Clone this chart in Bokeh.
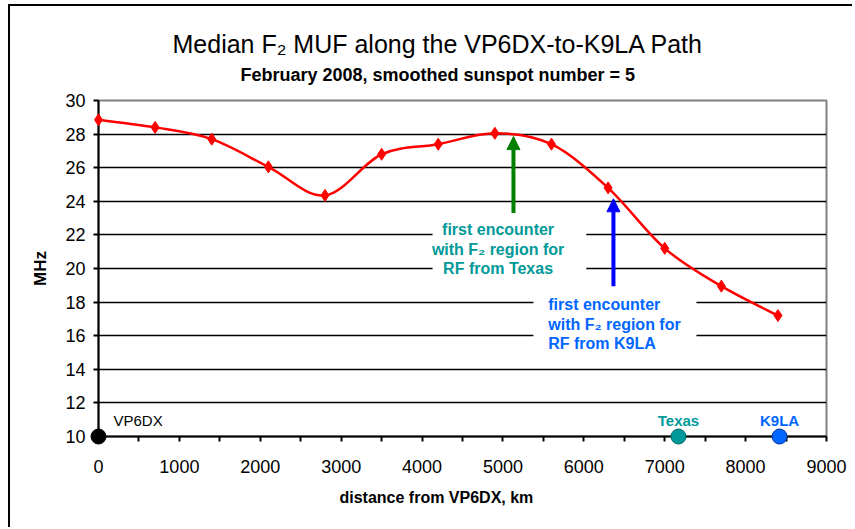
from bokeh.plotting import figure
from bokeh.models import (FixedTicker, Label, Arrow, NormalHead, Range1d, Title)
from bokeh.embed import file_html
from bokeh.resources import INLINE

# ---- data ----
distance_km = [0, 700, 1400, 2100, 2800, 3500, 4200, 4900, 5600, 6300, 7000, 7700, 8400]
muf_mhz = [28.85, 28.4, 27.7, 26.05, 24.35, 26.8, 27.4, 28.05, 27.4, 24.8, 21.2, 18.95, 17.2]

station_names = ["VP6DX", "Texas", "K9LA"]
station_km = [0, 7170, 8420]
station_colors = ["#000000", "#009999", "#0066ff"]
station_edge = ["#000000", "#006666", "#003399"]

x_ticks = list(range(0, 9001, 1000))
x_minor = list(range(500, 9000, 1000))
y_ticks = list(range(10, 31, 2))

title_text = "Median F\u2082 MUF along the VP6DX-to-K9LA Path"
subtitle_text = "February 2008, smoothed sunspot number = 5"
xlabel_text = "distance from VP6DX, km"
ylabel_text = "MHz"
texas_note = "first encounter\nwith F\u2082 region for\nRF from Texas"
k9la_note = "first encounter\nwith F\u2082 region for\nRF from K9LA"
texas_arrow_km = 5130
k9la_arrow_km = 6366

FONT = "Liberation Sans"

p = figure(width=844, height=523, output_backend="svg", toolbar_location=None,
           x_range=Range1d(0, 9000), y_range=Range1d(10, 30),
           min_border_left=88, min_border_right=28, min_border_top=94, min_border_bottom=93)
p.styles = {"margin-left": "8px", "margin-top": "4px",
            "border-left": "2px solid black", "border-top": "2px solid black"}
p.background_fill_color = "white"
p.border_fill_color = "white"
p.outline_line_color = "#808080"
p.outline_line_width = 2

# axes
p.xaxis.ticker = FixedTicker(ticks=x_ticks, minor_ticks=x_minor)
p.yaxis.ticker = FixedTicker(ticks=y_ticks)
for ax in (p.xaxis[0], p.yaxis[0]):
    ax.axis_line_color = "black"
    ax.axis_line_width = 2
    ax.major_tick_line_color = "black"
    ax.major_tick_line_width = 2
    ax.minor_tick_line_color = "black"
    ax.minor_tick_line_width = 2
    ax.major_tick_in = 0
    ax.major_tick_out = 5
    ax.minor_tick_in = 0
    ax.minor_tick_out = 5
    ax.major_label_text_font = FONT
    ax.major_label_text_font_size = "18px"
    ax.major_label_text_color = "black"
p.yaxis.minor_tick_line_color = None
p.xaxis.major_label_standoff = 18
p.yaxis.major_label_standoff = 8
p.yaxis.axis_label = ylabel_text
p.yaxis.axis_label_text_font = FONT
p.yaxis.axis_label_text_font_style = "bold"
p.yaxis.axis_label_text_font_size = "17px"
p.yaxis.axis_label_text_color = "black"
p.yaxis.axis_label_standoff = 12

p.xgrid.grid_line_color = None
p.ygrid.ticker = FixedTicker(ticks=y_ticks[1:-1])
p.ygrid.grid_line_color = "black"
p.ygrid.grid_line_width = 1.3

# titles (nearest to frame added first) and x label
p.add_layout(Title(text=" ", text_font=FONT, text_font_size="1px", standoff=13), "above")
p.add_layout(Title(text=subtitle_text, text_font=FONT, text_font_size="18px", text_color="black",
                   text_font_style="bold", align="left", offset=142, standoff=0), "above")
p.add_layout(Title(text=title_text, text_font=FONT, text_font_size="25px", text_color="black",
                   text_font_style="normal", align="left", offset=74, standoff=10), "above")
p.add_layout(Title(text=xlabel_text, text_font=FONT, text_font_size="16px", text_color="black",
                   text_font_style="bold", align="left", offset=241, standoff=22), "below")

# white boxes behind annotation text
p.quad(left=[4130], right=[6030], bottom=[19.1], top=[23.0], fill_color="white", line_color=None)
p.quad(left=[5377], right=[7392], bottom=[14.8], top=[18.6], fill_color="white", line_color=None)

# smoothed curve (Bezier segments through the data points)
n = len(distance_km)
x0, y0, x1, y1, cx0, cy0, cx1, cy1 = [], [], [], [], [], [], [], []
for i in range(n - 1):
    xm, ym = distance_km[max(i - 1, 0)], muf_mhz[max(i - 1, 0)]
    xa, ya = distance_km[i], muf_mhz[i]
    xb, yb = distance_km[i + 1], muf_mhz[i + 1]
    xp, yp = distance_km[min(i + 2, n - 1)], muf_mhz[min(i + 2, n - 1)]
    x0.append(xa); y0.append(ya); x1.append(xb); y1.append(yb)
    cx0.append(xa + (xb - xm) / 6); cy0.append(ya + (yb - ym) / 6)
    cx1.append(xb - (xp - xa) / 6); cy1.append(yb - (yp - ya) / 6)
p.bezier(x0=x0, y0=y0, x1=x1, y1=y1, cx0=cx0, cy0=cy0, cx1=cx1, cy1=cy1,
         line_color="red", line_width=2.5, level="overlay")
p.scatter(distance_km, muf_mhz, marker="diamond", size=12, color="red", level="overlay")

# stations on the baseline
p.scatter(station_km, [10] * 3, marker="circle", size=15, fill_color=station_colors,
          line_color=station_edge, line_width=1, level="overlay")
for name, km, col in zip(station_names, station_km, station_colors):
    if name == "VP6DX":
        p.add_layout(Label(x=km, y=10.95, text=name, x_offset=15, text_font=FONT,
                           text_font_size="15px", text_color=col, text_baseline="middle"))
    else:
        p.add_layout(Label(x=km, y=10.95, text=name, text_font=FONT, text_font_size="15px",
                           text_font_style="bold", text_color=col, text_align="center",
                           text_baseline="middle"))

# arrows
p.add_layout(Arrow(end=NormalHead(size=13, fill_color="#008000", line_color="#008000"),
                   x_start=texas_arrow_km, y_start=23.3, x_end=texas_arrow_km, y_end=27.85,
                   line_color="#008000", line_width=4))
p.add_layout(Arrow(end=NormalHead(size=13, fill_color="#0000ff", line_color="#0000ff"),
                   x_start=k9la_arrow_km, y_start=18.95, x_end=k9la_arrow_km, y_end=24.15,
                   line_color="#0000ff", line_width=4))

# notes
p.add_layout(Label(x=4940, y=22.82, text=texas_note, text_font=FONT, text_font_size="16px",
                   text_font_style="bold", text_color="#009999", text_align="center",
                   text_baseline="top", text_line_height=1.15))
p.add_layout(Label(x=5560, y=18.35, text=k9la_note, text_font=FONT, text_font_size="16px",
                   text_font_style="bold", text_color="#0066ff", text_align="left",
                   text_baseline="top", text_line_height=1.15))

open("out.html", "w").write(file_html(p, INLINE))
